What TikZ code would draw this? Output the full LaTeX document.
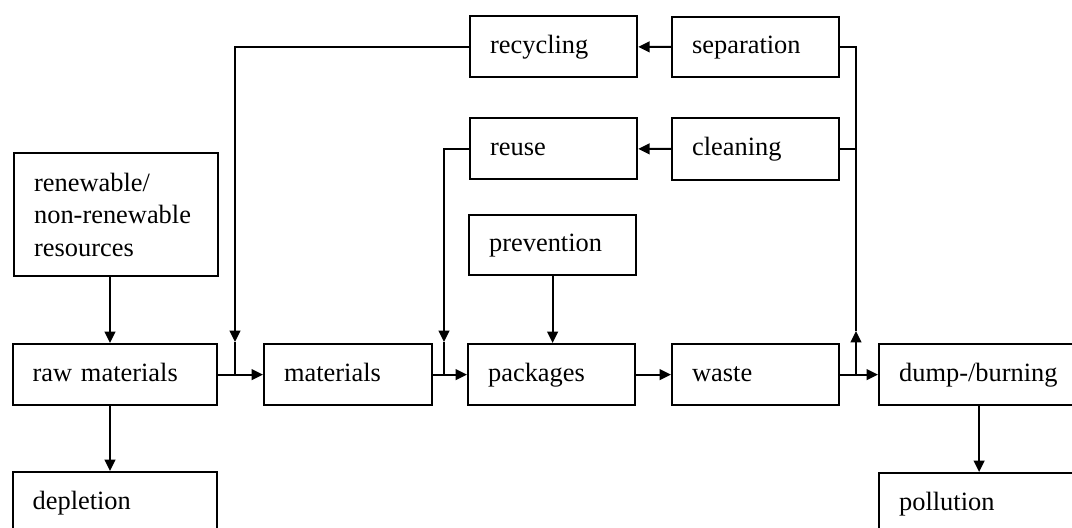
\documentclass[tikz,border=0pt]{standalone}
\usepackage{fontspec}
\setmainfont{Liberation Serif}
\usetikzlibrary{arrows.meta}
\begin{document}
\begin{tikzpicture}[x=0.75pt,y=-0.75pt,
  box/.style 2 args={draw,line width=1.7pt,anchor=north west,
    inner xsep=15pt,inner ysep=0pt,
    minimum width={#1*0.75pt},minimum height={#2*0.75pt},
    text width={#1*0.75pt-30pt},align=left,
    font=\fontsize{19.8pt}{24.4pt}\selectfont},
  oneline/.style={text height=13.5pt,text depth=3.75pt},
  link/.style={line width=1.6pt},
  flow/.style={link,-{Triangle[length=8.5pt,width=8pt]}}]

\useasboundingbox (0,0) rectangle (1072,528);

% boxes
\node[box={204}{123}] (res) at (13,152) {renewable/\\non-renewable\\resources};
\node[box={204}{61},oneline] (raw) at (11.5,343) {raw materials};
\node[box={204}{61},oneline] (depl) at (11.5,471) {depletion};
\node[box={168}{61},oneline] (mat) at (263,343) {materials};
\node[box={167}{61},oneline] (pack) at (467,343) {packages};
\node[box={167}{61},oneline] (waste) at (671,343) {waste};
\node[box={200}{61},oneline] (dump) at (878,343) {dump-/burning};
\node[box={200}{61},oneline] (poll) at (878,472) {pollution};
\node[box={167}{60},oneline] (prev) at (468,214) {prevention};
\node[box={167}{61},oneline] (reuse) at (469,117) {reuse};
\node[box={167}{61},oneline] (recyc) at (469,15) {recycling};
\node[box={167}{60},oneline] (sep) at (671,16) {separation};
\node[box={167}{62},oneline] (clean) at (671,117) {cleaning};

% helper points for the feedback lines
\coordinate (colA) at (110,0);
\coordinate (t1) at (235,342);
\coordinate (t2) at (444,342);
\coordinate (t3) at (856,331);

% main flow
\draw[flow] (res.south -| colA) -- (raw.north -| colA);
\draw[flow] (raw.south -| colA) -- (depl.north -| colA);
\draw[flow] (raw) -- (mat);
\draw[flow] (mat) -- (pack);
\draw[flow] (pack) -- (waste);
\draw[flow] (waste) -- (dump);
\draw[flow] (dump) -- (poll);
\draw[flow] (prev.south) -- (prev.south |- pack.north);

% recycling loop
\draw[flow] (sep) -- (recyc);
\draw[flow] (recyc.west) -| (t1);
\draw[link] (t1) -- (t1 |- raw.east);

% reuse loop
\draw[flow] (clean) -- (reuse);
\draw[flow] (reuse.west) -| (t2);
\draw[link] (t2) -- (t2 |- mat.east);

% collection after waste
\draw[flow] (t3 |- waste.east) -- (t3);
\draw[link] (t3) |- (sep.east);
\draw[link] (clean.east) -- (clean.east -| t3);

\end{tikzpicture}
\end{document}
